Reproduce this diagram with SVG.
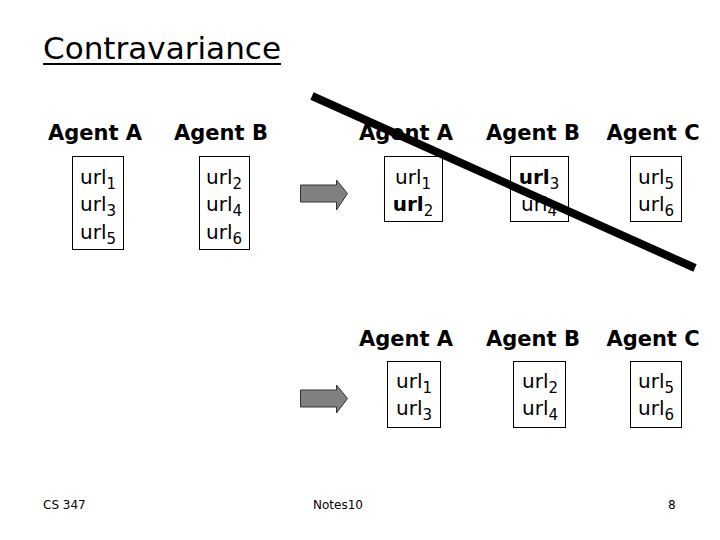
<svg xmlns="http://www.w3.org/2000/svg" width="720" height="540" viewBox="0 0 720 540">
<style>
.title{font-family:"DejaVu Sans",Verdana,sans-serif;font-size:30px;fill:#000}
.hd{font-family:"DejaVu Sans",Verdana,sans-serif;font-size:21px;font-weight:bold;fill:#000;text-anchor:middle}
.u{font-family:"DejaVu Sans",Verdana,sans-serif;font-size:20px;fill:#000;text-anchor:middle}
.b{font-weight:bold}
.s{font-size:15px;font-weight:normal}
.box{fill:#fff;stroke:#000;stroke-width:1}
.arr{fill:#808080;stroke:#333;stroke-width:1}
.ft{font-family:"DejaVu Sans",Verdana,sans-serif;font-size:12px;fill:#000}
</style>
<rect width="720" height="540" fill="#fff"/>
<text class="title" x="43" y="59" textLength="238" lengthAdjust="spacingAndGlyphs">Contravariance</text>
<rect x="43" y="63" width="238" height="2" fill="#000"/>

<g id="left-agentA">
<text class="hd" x="95" y="140">Agent A</text>
<rect class="box" x="72.5" y="156.5" width="51" height="93"/>
<text class="u" x="98" y="184">url<tspan class="s" dy="5">1</tspan></text>
<text class="u" x="98" y="211">url<tspan class="s" dy="5">3</tspan></text>
<text class="u" x="98" y="239">url<tspan class="s" dy="5">5</tspan></text>
</g>
<g id="left-agentB">
<text class="hd" x="221" y="140">Agent B</text>
<rect class="box" x="199.5" y="156.5" width="50" height="93"/>
<text class="u" x="224" y="184">url<tspan class="s" dy="5">2</tspan></text>
<text class="u" x="224" y="211">url<tspan class="s" dy="5">4</tspan></text>
<text class="u" x="224" y="239">url<tspan class="s" dy="5">6</tspan></text>
</g>

<g id="top-agentA">
<text class="hd" x="406" y="140">Agent A</text>
<rect class="box" x="384.5" y="156.5" width="58" height="65"/>
<text class="u" x="413" y="184">url<tspan class="s" dy="5">1</tspan></text>
<text class="u b" x="413" y="211">url<tspan class="s" dy="5">2</tspan></text>
</g>
<g id="top-agentB">
<text class="hd" x="533" y="140">Agent B</text>
<rect class="box" x="510.5" y="156.5" width="58" height="65"/>
<text class="u b" x="539" y="184">url<tspan class="s" dy="5">3</tspan></text>
<text class="u" x="539" y="211">url<tspan class="s" dy="5">4</tspan></text>
</g>
<g id="top-agentC">
<text class="hd" x="653" y="140">Agent C</text>
<rect class="box" x="630.5" y="156.5" width="51" height="65"/>
<text class="u" x="656" y="184">url<tspan class="s" dy="5">5</tspan></text>
<text class="u" x="656" y="211">url<tspan class="s" dy="5">6</tspan></text>
</g>

<g id="bottom-agentA">
<text class="hd" x="406" y="346">Agent A</text>
<rect class="box" x="387.5" y="361.5" width="53" height="66"/>
<text class="u" x="414" y="388">url<tspan class="s" dy="5">1</tspan></text>
<text class="u" x="414" y="415">url<tspan class="s" dy="5">3</tspan></text>
</g>
<g id="bottom-agentB">
<text class="hd" x="533" y="346">Agent B</text>
<rect class="box" x="513.5" y="361.5" width="52" height="66"/>
<text class="u" x="540" y="388">url<tspan class="s" dy="5">2</tspan></text>
<text class="u" x="540" y="415">url<tspan class="s" dy="5">4</tspan></text>
</g>
<g id="bottom-agentC">
<text class="hd" x="653" y="346">Agent C</text>
<rect class="box" x="630.5" y="361.5" width="51" height="66"/>
<text class="u" x="656" y="388">url<tspan class="s" dy="5">5</tspan></text>
<text class="u" x="656" y="415">url<tspan class="s" dy="5">6</tspan></text>
</g>

<g id="connectors">
<polygon class="arr" points="300.5,185 336.5,185 336.5,180 347.5,193.5 336.5,210 336.5,202 300.5,202"/>
<polygon class="arr" points="300.5,390 336.5,390 336.5,385 347.5,398.5 336.5,413 336.5,407 300.5,407"/>
</g>

<line x1="312" y1="96" x2="695" y2="268" stroke="#000" stroke-width="8"/>

<text class="ft" x="43" y="509">CS 347</text>
<text class="ft" x="313" y="509">Notes10</text>
<text class="ft" x="668" y="509">8</text>
</svg>
